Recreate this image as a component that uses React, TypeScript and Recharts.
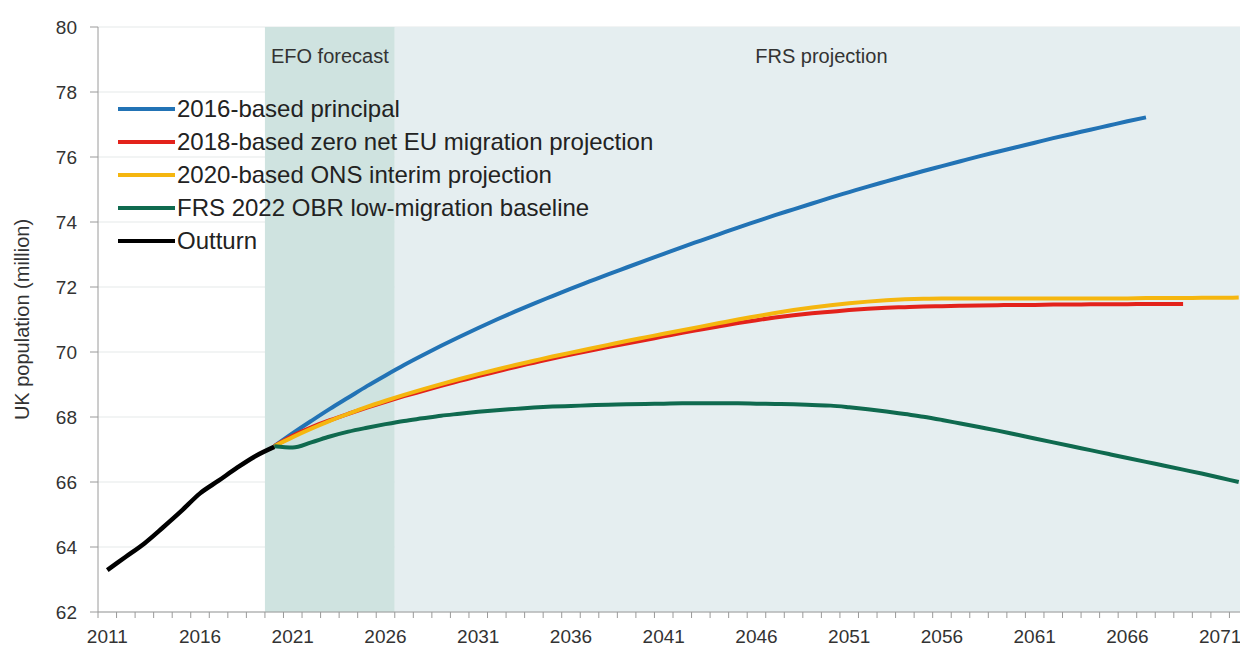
import { LineChart, Line, XAxis, YAxis, CartesianGrid, ReferenceArea, Label } from 'recharts';

const FONT = '"Liberation Sans", Arial, sans-serif';

// categories (calendar years)
const YEARS = [
  2011, 2012, 2013, 2014, 2015, 2016, 2017, 2018, 2019, 2020,
  2021, 2022, 2023, 2024, 2025, 2026, 2027, 2028, 2029, 2030,
  2031, 2032, 2033, 2034, 2035, 2036, 2037, 2038, 2039, 2040,
  2041, 2042, 2043, 2044, 2045, 2046, 2047, 2048, 2049, 2050,
  2051, 2052, 2053, 2054, 2055, 2056, 2057, 2058, 2059, 2060,
  2061, 2062, 2063, 2064, 2065, 2066, 2067, 2068, 2069, 2070,
  2071, 2072,
];

const LABEL_YEARS = [2011, 2016, 2021, 2026, 2031, 2036, 2041, 2046, 2051, 2056, 2061, 2066, 2071];
const Y_TICKS = [62, 64, 66, 68, 70, 72, 74, 76, 78, 80];

// outturn, 2011-2020
const OUTTURN = [63.29, 63.7, 64.11, 64.6, 65.11, 65.65, 66.04, 66.44, 66.8, 67.08];

// 2016-based principal, 2020-2067
const PRINCIPAL_2016 = [
  67.1, 67.5, 67.88, 68.25, 68.6, 68.95, 69.28, 69.6, 69.9, 70.19,
  70.47, 70.74, 71.0, 71.25, 71.49, 71.72, 71.95, 72.17, 72.39, 72.6,
  72.81, 73.02, 73.23, 73.43, 73.63, 73.83, 74.02, 74.21, 74.39, 74.57,
  74.75, 74.92, 75.09, 75.25, 75.41, 75.57, 75.72, 75.87, 76.02, 76.16,
  76.3, 76.44, 76.58, 76.71, 76.84, 76.97, 77.1, 77.22,
];

// 2018-based zero net EU migration, 2020-2069
const ZERO_EU_2018 = [
  67.1, 67.42, 67.68, 67.9, 68.1, 68.29, 68.47, 68.64, 68.8, 68.96,
  69.11, 69.26, 69.4, 69.54, 69.67, 69.8, 69.92, 70.04, 70.15, 70.26,
  70.37, 70.48, 70.59, 70.69, 70.79, 70.89, 70.98, 71.06, 71.13, 71.19,
  71.24, 71.29, 71.33, 71.36, 71.38, 71.4, 71.41, 71.42, 71.43, 71.44,
  71.45, 71.45, 71.46, 71.46, 71.47, 71.47, 71.47, 71.48, 71.48, 71.48,
];

// 2020-based ONS interim, 2020-2072
const INTERIM_2020 = [
  67.1, 67.38, 67.64, 67.88, 68.1, 68.31, 68.5, 68.68, 68.85, 69.01,
  69.17, 69.32, 69.46, 69.6, 69.73, 69.86, 69.98, 70.1, 70.22, 70.34,
  70.45, 70.56, 70.67, 70.78, 70.89, 71.0, 71.1, 71.2, 71.29, 71.37,
  71.44, 71.5, 71.55, 71.59, 71.62, 71.64, 71.65, 71.65, 71.65, 71.65,
  71.65, 71.65, 71.65, 71.65, 71.65, 71.65, 71.65, 71.66, 71.66, 71.66,
  71.67, 71.67, 71.68,
];

// FRS 2022 OBR low-migration baseline, 2020-2072
const FRS_2022 = [
  67.1, 67.06, 67.22, 67.4, 67.55, 67.67, 67.78, 67.88, 67.96, 68.04,
  68.1, 68.16, 68.21, 68.25, 68.29, 68.32, 68.34, 68.36, 68.38, 68.39,
  68.4, 68.41, 68.42, 68.42, 68.42, 68.42, 68.41, 68.4, 68.39, 68.37,
  68.35, 68.3, 68.24, 68.17, 68.09, 68.01, 67.91, 67.8, 67.69, 67.58,
  67.46, 67.34, 67.22, 67.1, 66.98, 66.86, 66.74, 66.62, 66.5, 66.38,
  66.26, 66.13, 66.0,
];

const SERIES = [
  { key: 'principal2016', name: '2016-based principal', color: '#2273b5', width: 4, start: 2020, values: PRINCIPAL_2016 },
  { key: 'zeroEu2018', name: '2018-based zero net EU migration projection', color: '#e3221b', width: 4, start: 2020, values: ZERO_EU_2018 },
  { key: 'interim2020', name: '2020-based ONS interim projection', color: '#f5b60f', width: 4, start: 2020, values: INTERIM_2020 },
  { key: 'frs2022', name: 'FRS 2022 OBR low-migration baseline', color: '#0f6a4f', width: 4, start: 2020, values: FRS_2022 },
  { key: 'outturn', name: 'Outturn', color: '#000000', width: 4.5, start: 2011, values: OUTTURN },
];

const data = YEARS.map((year) => {
  const row: Record<string, number | undefined> = { year };
  SERIES.forEach((s) => {
    row[s.key] = s.values[year - s.start];
  });
  return row;
});

// tick positions: boundaries between years get a tick mark, label years get text
const X_TICKS = [...YEARS.map((y) => y - 0.5), YEARS[YEARS.length - 1] + 0.5, ...LABEL_YEARS];

function XTick({ x, y, payload }: any) {
  const v = payload.value;
  if (!Number.isInteger(v)) {
    return <line x1={x} x2={x} y1={y} y2={y + 6} stroke="#9a9a9a" strokeWidth={1} />;
  }
  return (
    <text x={x} y={y + 31} textAnchor="middle" fill="#333" fontSize={19} fontFamily={FONT}>
      {v}
    </text>
  );
}

function YTitle({ viewBox }: any) {
  const cx = viewBox.x + 14;
  const cy = viewBox.y + viewBox.height / 2;
  return (
    <text
      x={cx}
      y={cy}
      transform={`rotate(-90 ${cx} ${cy})`}
      textAnchor="middle"
      dominantBaseline="central"
      fill="#333"
      fontSize={20}
      fontFamily={FONT}
    >
      UK population (million)
    </text>
  );
}

function regionLabel(text: string) {
  return ({ viewBox }: any) => (
    <text
      x={viewBox.x + viewBox.width / 2}
      y={viewBox.y + 36}
      textAnchor="middle"
      fill="#333"
      fontSize={20}
      fontFamily={FONT}
    >
      {text}
    </text>
  );
}

export default function App() {
  return (
    <div style={{ position: 'relative', width: 1240, height: 638, fontFamily: FONT }}>
      <LineChart width={1240} height={638} data={data} margin={{ top: 19, right: 0, left: 0, bottom: 4 }}>
        <ReferenceArea x1={2019.5} x2={2026.5} y1={62} y2={80} fill="#cfe3e0" fillOpacity={1} stroke="none" label={regionLabel('EFO forecast')} />
        <ReferenceArea x1={2026.5} x2={2072.5} y1={62} y2={80} fill="#e5eef0" fillOpacity={1} stroke="none" label={regionLabel('FRS projection')} />
        <CartesianGrid vertical={false} stroke="#dfe3e4" strokeOpacity={0.8} />
        <XAxis
          dataKey="year"
          type="number"
          domain={[2010.5, 2072.5]}
          ticks={X_TICKS}
          interval={0}
          tick={<XTick />}
          tickLine={false}
          tickSize={0}
          tickMargin={0}
          axisLine={{ stroke: '#9a9a9a' }}
          height={30}
          allowDataOverflow
        />
        <YAxis
          domain={[62, 80]}
          ticks={Y_TICKS}
          interval={0}
          width={90}
          tickSize={8}
          tickMargin={13}
          tickLine={{ stroke: '#9a9a9a' }}
          axisLine={{ stroke: '#9a9a9a' }}
          tick={{ fill: '#333', fontSize: 19, fontFamily: FONT }}
        >
          <Label content={<YTitle />} />
        </YAxis>
        {SERIES.map((s) => (
          <Line
            key={s.key}
            dataKey={s.key}
            name={s.name}
            type="monotone"
            stroke={s.color}
            strokeWidth={s.width}
            dot={false}
            isAnimationActive={false}
          />
        ))}
      </LineChart>
      <div style={{ position: 'absolute', left: 110, top: 84 }}>
        {SERIES.map((s) => (
          <div key={s.key} style={{ display: 'flex', alignItems: 'center', height: 33 }}>
            <span style={{ width: 57, height: 4, background: s.color, marginRight: 2 }} />
            <span style={{ fontSize: 24, color: '#222', whiteSpace: 'nowrap' }}>{s.name}</span>
          </div>
        ))}
      </div>
    </div>
  );
}
